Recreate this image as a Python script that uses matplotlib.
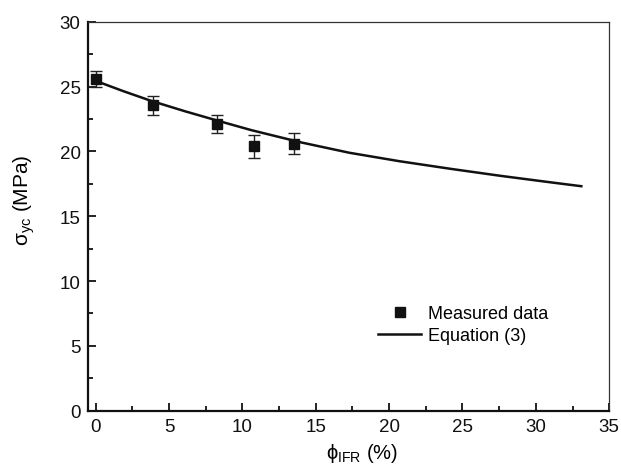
import matplotlib
matplotlib.use("Agg")
import matplotlib.pyplot as plt
from matplotlib.lines import Line2D
from matplotlib.ticker import MultipleLocator

plt.rcParams['font.family'] = ['Liberation Sans', 'DejaVu Sans']
plt.rcParams['mathtext.fontset'] = 'custom'
plt.rcParams['mathtext.rm'] = 'Liberation Sans'
plt.rcParams['mathtext.it'] = 'Liberation Sans:italic'

# measured compressive yield strength vs IFR content
phi_meas = [0.0, 3.9, 8.3, 10.8, 13.5]
sigma_meas = [25.6, 23.55, 22.1, 20.4, 20.6]
sigma_err = [0.6, 0.75, 0.7, 0.9, 0.8]

# Equation (3) curve
phi_eq = [0.0, 1.9, 3.8, 6.1, 8.4, 10.6, 14.0, 17.3, 20.7, 24.2, 27.6, 31.0, 33.1]
sigma_eq = [25.45, 24.65, 23.9, 23.1, 22.35, 21.65, 20.7, 19.9, 19.25, 18.66, 18.12, 17.62, 17.32]

fig = plt.figure(figsize=(6.21, 4.77), dpi=100)
ax = fig.add_axes([0.141, 0.137, 0.840, 0.815])

ax.errorbar(phi_meas, sigma_meas, yerr=sigma_err, fmt='s', color='#111111',
            markersize=7.5, ecolor='#222222', elinewidth=1.0, capsize=4,
            capthick=1.0, zorder=3)
ax.plot(phi_eq, sigma_eq, '-', color='#111111', linewidth=1.8, zorder=2)

ax.set_xlim(-0.55, 35)
ax.set_ylim(0, 30)
ax.xaxis.set_major_locator(MultipleLocator(5))
ax.xaxis.set_minor_locator(MultipleLocator(2.5))
ax.yaxis.set_major_locator(MultipleLocator(5))
ax.yaxis.set_minor_locator(MultipleLocator(2.5))
ax.tick_params(which='both', direction='in', top=False, right=False,
               width=1.3, colors='#111111', labelsize=13.5, pad=5)
ax.tick_params(which='major', length=6)
ax.tick_params(which='minor', length=3.5)

for side in ['left', 'bottom']:
    ax.spines[side].set_linewidth(1.6)
    ax.spines[side].set_color('#111111')
for side in ['top', 'right']:
    ax.spines[side].set_linewidth(0.9)
    ax.spines[side].set_color('#333333')

ax.set_xlabel(r'ϕ$_{\mathrm{IFR}}$ (%)', fontsize=14.5)
ax.set_ylabel(r'σ$_{\mathrm{yc}}$ (MPa)', fontsize=15)
ax.xaxis.set_label_coords(0.526, -0.078)
ax.yaxis.set_label_coords(-0.097, 0.544)

# legend: marker only for the data, plain line for the model
handles = [
    Line2D([], [], marker='s', linestyle='none', color='#111111', markersize=7),
    Line2D([], [], color='#111111', linewidth=1.8),
]
labels = ['Measured data', 'Equation (3)']
ax.legend(handles, labels, loc='upper left', bbox_to_anchor=(0.557, 0.272),
          frameon=False, fontsize=13, handlelength=2.4, handletextpad=0.35,
          labelspacing=0.3, borderpad=0, borderaxespad=0)

fig.savefig('out.png', dpi=100)
